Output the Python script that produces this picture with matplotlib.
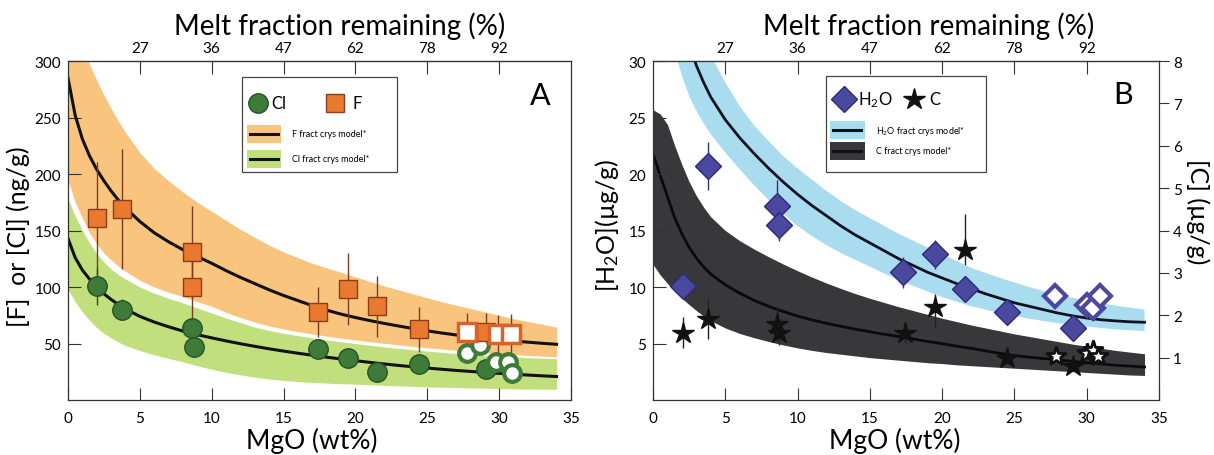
import matplotlib
matplotlib.use("Agg")
import matplotlib.pyplot as plt
from matplotlib.patches import Rectangle

plt.rcParams['font.family'] = ['Lato', 'DejaVu Sans']
plt.rcParams['mathtext.fontset'] = 'custom'
plt.rcParams['mathtext.rm'] = 'Lato'
plt.rcParams['mathtext.it'] = 'Lato:italic'

# top axis: melt fraction remaining at given MgO
melt_mgo = [5, 10, 15, 20, 25, 30]
melt_labels = ['27', '36', '47', '62', '78', '92']

# x grid used for the model curves and envelopes
grid = [0, 0.5, 1, 1.5, 2, 2.5, 3, 3.5, 4, 5, 6, 7, 8, 9, 10, 11, 12, 13, 14, 15, 16, 17,
        18, 19, 20, 21, 22, 23, 24, 25, 26, 27, 28, 29, 30, 31, 32, 33, 34]

# ---- panel A data ----
f_mgo = [2.05, 3.75, 8.6, 8.6, 17.4, 19.5, 21.5, 24.4, 29.1]
f_val = [161, 169, 131, 100, 78, 98.5, 83, 62.5, 60]
f_err = [50, 53, 41, 31, 22, 32, 27, 20, 17]
f_open_mgo = [27.8, 29.9, 30.8]
f_open_val = [60, 58, 58]
f_open_err = [17, 17, 18]

cl_mgo = [2.05, 3.75, 8.6, 8.75, 17.4, 19.5, 21.5, 24.4, 29.1]
cl_val = [100.5, 80, 64, 47, 45.5, 37.5, 25, 31.5, 27]
cl_err = [16, 9, 8, 0, 6, 4, 0, 0, 0]
cl_open_mgo = [27.8, 28.7, 29.8, 30.6, 30.9]
cl_open_val = [42, 48.5, 34, 34, 24]

f_model = [285, 252, 231, 216, 204, 194, 185, 177, 170, 158, 148, 140, 133, 127, 121, 114.5,
           108.5, 103, 97.5, 92.5, 88, 83.5, 79.5, 76, 73, 70.3, 67.8, 65.5, 63.3, 61.2, 59.3,
           57.6, 56, 54.6, 53.3, 52.2, 51.2, 50.2, 49.3]
cl_model = [143, 126, 115, 107, 100, 94, 89, 84.5, 80.5, 74, 69, 64.8, 61, 57.8, 55, 52.3, 49.8,
            47.5, 45.3, 43.3, 41.4, 39.6, 37.9, 36.3, 34.8, 33.3, 31.9, 30.6, 29.4, 28.3, 27.2,
            26.2, 25.3, 24.4, 23.6, 22.8, 22.1, 21.4, 20.8]
f_hi = [345, 328, 312, 297, 283, 270, 258, 247, 237, 219, 205, 194, 184, 175, 167, 159, 151,
        144, 137, 131, 126, 121, 117, 113, 109, 105, 101, 97.5, 94, 90.5, 87, 84, 81, 78, 75,
        72, 69.5, 67, 64.5]
f_lo = [195, 175, 161, 148, 138, 130, 124, 118.5, 114, 106, 100, 95.5, 91.5, 87, 83, 77.5, 73,
        69, 65.5, 63, 60.5, 58.5, 56.5, 54.8, 53.2, 51.6, 50.2, 48.8, 47.5, 46.3, 45.1, 44, 43,
        42, 41.1, 40.3, 39.5, 38.8, 38.2]
cl_hi = [178, 163, 150, 139, 129.5, 122, 116, 111, 107, 100, 94.5, 90, 86, 81.5, 77, 72.5,
         68.5, 64.5, 61.5, 59, 57, 55, 53.2, 51.5, 50, 48.5, 47, 45.7, 44.5, 43.3, 42.2, 41.1,
         40.2, 39.4, 38.6, 38, 37.5, 37, 36.6]
cl_lo = [98, 87, 78, 70.5, 64, 59, 55, 51.3, 48.2, 43.8, 40, 36.8, 33.8, 30.3, 27.2, 24.5, 22.2,
         20.2, 18.6, 17.3, 16.3, 15.5, 14.9, 14.4, 14, 13.5, 13, 12.5, 12.1, 11.7, 11.3, 11,
         10.7, 10.4, 10.1, 9.9, 9.7, 9.6, 9.5]

# ---- panel B data ----
h2o_mgo = [2.05, 3.77, 8.56, 8.7, 17.3, 19.5, 21.6, 24.5, 29.05]
h2o_val = [10.1, 20.7, 17.2, 15.5, 11.3, 12.9, 9.8, 7.75, 6.4]
h2o_err = [0, 2.1, 2.3, 1.4, 1.4, 1.3, 0, 0, 0]
h2o_open_mgo = [27.8, 30.0, 30.4, 30.9]
h2o_open_val = [9.2, 8.4, 8.1, 9.2]

c_mgo = [2.05, 3.77, 8.56, 8.7, 17.4, 19.5, 21.6, 24.5, 29.05]
c_val = [1.59, 1.91, 1.79, 1.59, 1.59, 2.2, 3.55, 0.98, 0.81]
c_err = [0.37, 0.47, 0.38, 0.3, 0.25, 0.5, 0.85, 0, 0]
c_open_mgo = [27.9, 30.0, 30.4, 30.8]
c_open_val = [1.04, 1.12, 1.18, 1.03]

h2o_model_mgo = [2.5, 3, 3.5, 4, 5, 6, 7, 8, 9, 10, 11, 12, 13, 14, 15, 16, 17, 18, 19, 20,
                 21, 22, 23, 24, 25, 26, 27, 28, 29, 30, 31, 32, 33, 34]
h2o_model = [31.5, 29.6, 28.1, 26.8, 24.8, 23.2, 21.8, 20.5, 19.3, 18.2, 17.2, 16.3, 15.4, 14.6,
             13.9, 13.2, 12.5, 11.9, 11.3, 10.8, 10.3, 9.85, 9.4, 9.0, 8.6, 8.3, 8.0, 7.7, 7.45,
             7.25, 7.1, 7.0, 6.92, 6.88]
h2o_hi_mgo = [4.2, 5, 6, 7, 8, 9, 10, 11, 12, 13, 14, 15, 16, 17, 18, 19, 20, 22, 24, 26, 28,
              30, 32, 34]
h2o_hi = [30, 28.1, 26, 24.3, 22.9, 21.6, 20.5, 19.5, 18.5, 17.6, 16.8, 16.1, 15.4, 14.7, 14.1,
          13.5, 12.9, 11.7, 10.8, 10.0, 9.3, 8.8, 8.35, 8.0]
h2o_lo_mgo = [1.7, 2, 2.5, 3, 3.5, 4, 5, 6, 7, 8, 9, 10, 11, 12, 13, 14, 15, 16, 17, 18, 20,
              22, 24, 26, 28, 30, 32, 34]
h2o_lo = [30, 28.7, 26.9, 25.6, 24.5, 23.5, 21.9, 20.4, 19.0, 17.7, 16.5, 15.4, 14.5, 13.7, 13.0,
          12.4, 11.8, 11.2, 10.6, 10.1, 9.1, 8.3, 7.7, 7.2, 6.8, 6.5, 6.25, 6.1]

c_model = [5.8, 5.3, 4.8, 4.3, 3.92, 3.6, 3.35, 3.14, 2.97, 2.72, 2.52, 2.35, 2.21, 2.09, 1.98,
           1.89, 1.81, 1.74, 1.67, 1.61, 1.55, 1.5, 1.44, 1.38, 1.33, 1.27, 1.22, 1.16, 1.1,
           1.05, 1.01, 0.98, 0.95, 0.91, 0.88, 0.85, 0.82, 0.8, 0.78]
c_hi = [6.85, 6.75, 6.5, 6.0, 5.55, 5.15, 4.82, 4.55, 4.32, 4.0, 3.76, 3.56, 3.38, 3.21, 3.05,
        2.9, 2.76, 2.63, 2.51, 2.4, 2.3, 2.2, 2.11, 2.02, 1.93, 1.85, 1.77, 1.7, 1.63, 1.56, 1.5,
        1.44, 1.38, 1.32, 1.27, 1.22, 1.17, 1.13, 1.09]
c_lo = [3.2, 2.95, 2.75, 2.56, 2.4, 2.25, 2.11, 1.98, 1.87, 1.7, 1.57, 1.47, 1.38, 1.3, 1.23,
        1.17, 1.12, 1.08, 1.04, 1.0, 0.97, 0.94, 0.91, 0.88, 0.86, 0.83, 0.81, 0.79, 0.77, 0.75,
        0.73, 0.71, 0.69, 0.67, 0.65, 0.63, 0.61, 0.59, 0.58]

# colours
ORANGE_BAND = '#f8c47e'
GREEN_BAND = '#c2df7e'
BLUE_BAND = '#aadcf0'
DARK_BAND = '#38383a'
F_FILL, F_EDGE = '#e8792f', '#8a3c1c'
CL_FILL, CL_EDGE = '#3e7b39', '#27522a'
H_FILL, H_EDGE = '#4b48a0', '#2d2a78'
SPINE = '#333333'

fig = plt.figure(figsize=(12.14, 4.56), dpi=100)
ax_a = fig.add_axes([0.056, 0.1206, 0.4143, 0.7434])
ax_b = fig.add_axes([0.5379, 0.1206, 0.4168, 0.7434])
ax_c = ax_b.twinx()


def style_axes(ax, ylim, yticks, title_x, label_x):
    ax.set_xlim(0, 35)
    ax.set_ylim(*ylim)
    ax.set_xticks([0, 5, 10, 15, 20, 25, 30, 35])
    ax.set_yticks(yticks)
    ax.tick_params(direction='in', length=9, width=0.8, color=SPINE, labelsize=11, pad=5)
    ax.tick_params(axis='x', pad=8)
    for s in ax.spines.values():
        s.set_color(SPINE)
        s.set_linewidth(0.9)
    ax.text(label_x, -0.118, 'MgO (wt%)', transform=ax.transAxes, fontsize=19,
            ha='center', va='center')
    top = ax.secondary_xaxis('top')
    top.set_xticks(melt_mgo, labels=melt_labels)
    top.tick_params(direction='in', length=9, width=0.8, color=SPINE, labelsize=11, pad=4)
    ax.text(title_x, 1.106, 'Melt fraction remaining (%)', transform=ax.transAxes,
            fontsize=20, ha='center', va='center')


def legend_band(ax, x0, y, color, label):
    ax.add_patch(Rectangle((x0, y - 0.026), 0.068, 0.052, transform=ax.transAxes,
                           facecolor=color, edgecolor='none', zorder=11))
    ax.plot([x0 + 0.006, x0 + 0.062], [y, y], transform=ax.transAxes, color='#111111',
            lw=2.2, zorder=12, clip_on=False)
    ax.text(x0 + 0.09, y, label, transform=ax.transAxes, fontsize=6.5, va='center', zorder=12)


def legend_box(ax, x0, x1, y0, y1):
    ax.add_patch(Rectangle((x0, y0), x1 - x0, y1 - y0, transform=ax.transAxes,
                           facecolor='white', edgecolor='#444444', lw=0.9, zorder=10))


# ---------------- panel A ----------------
ax = ax_a
style_axes(ax, (0, 300), [50, 100, 150, 200, 250, 300], 0.54, 0.484)
ax.fill_between(grid, f_lo, f_hi, color=ORANGE_BAND, lw=0, zorder=1)
ax.fill_between(grid, cl_lo, cl_hi, color=GREEN_BAND, lw=0, zorder=1)
ax.plot(grid, f_model, color='#111111', lw=2.2, zorder=2)
ax.plot(grid, cl_model, color='#111111', lw=2.2, zorder=2)

ax.errorbar(f_mgo, f_val, yerr=f_err, fmt='none', ecolor='#7a3c22', elinewidth=1, zorder=3)
ax.errorbar(f_open_mgo, f_open_val, yerr=f_open_err, fmt='none', ecolor='#7a3c22', elinewidth=1, zorder=3)
ax.errorbar(cl_mgo, cl_val, yerr=cl_err, fmt='none', ecolor='#2b4a28', elinewidth=1, zorder=3)
ax.plot(f_mgo, f_val, 's', ms=13.5, mfc=F_FILL, mec=F_EDGE, mew=1, zorder=5)
ax.plot(cl_mgo, cl_val, 'o', ms=14, mfc=CL_FILL, mec=CL_EDGE, mew=1, zorder=4)
ax.plot(f_open_mgo, f_open_val, 's', ms=13.5, mfc='white', mec='#d9622a', mew=2.5, zorder=5)
ax.plot(cl_open_mgo, cl_open_val, 'o', ms=12, mfc='white', mec=CL_FILL, mew=3, zorder=4)

ax.text(0.938, 0.9, 'A', transform=ax.transAxes, fontsize=22, ha='center', va='center')

legend_box(ax, 0.345, 0.655, 0.673, 0.953)
ax.plot([0.378], [0.876], 'o', ms=14, mfc=CL_FILL, mec=CL_EDGE, transform=ax.transAxes, zorder=12)
ax.text(0.405, 0.876, 'Cl', transform=ax.transAxes, fontsize=12, va='center', zorder=12)
ax.plot([0.53], [0.876], 's', ms=13.5, mfc=F_FILL, mec=F_EDGE, transform=ax.transAxes, zorder=12)
ax.text(0.565, 0.876, 'F', transform=ax.transAxes, fontsize=12, va='center', zorder=12)
legend_band(ax, 0.355, 0.785, ORANGE_BAND, 'F fract crys model*')
legend_band(ax, 0.355, 0.711, GREEN_BAND, 'Cl fract crys model*')

fig.text(0.015, 0.48, '[F]  or [Cl] (ng/g)', rotation=90, fontsize=18, ha='center', va='center')

# ---------------- panel B ----------------
style_axes(ax_b, (0, 30), [5, 10, 15, 20, 25, 30], 0.545, 0.478)
ax_c.set_ylim(0, 8)
ax_c.set_yticks([1, 2, 3, 4, 5, 6, 7, 8])
ax_c.tick_params(direction='out', length=7, width=0.8, color=SPINE, labelsize=11, pad=3)
for s in ax_c.spines.values():
    s.set_visible(False)
ax_b.set_zorder(ax_c.get_zorder() + 1)
ax_b.patch.set_visible(False)

# carbon (right axis)
ax_c.fill_between(grid, c_lo, c_hi, color=DARK_BAND, lw=0, zorder=1)
ax_c.plot(grid, c_model, color='#0a0a0a', lw=2, zorder=2)
ax_c.errorbar(c_mgo, c_val, yerr=c_err, fmt='none', ecolor='#222222', elinewidth=1, zorder=3)
ax_c.plot(c_mgo, c_val, '*', ms=16, mfc='#111111', mec='#111111', zorder=4)
ax_c.plot(c_open_mgo, c_open_val, '*', ms=15, mfc='white', mec='#111111', mew=2, zorder=4)

# water (left axis)
ax = ax_b
ax.fill(h2o_hi_mgo + h2o_lo_mgo[::-1], h2o_hi + h2o_lo[::-1], color=BLUE_BAND, lw=0, zorder=1)
ax.plot(h2o_model_mgo, h2o_model, color='#111122', lw=2, zorder=2)
ax.errorbar(h2o_mgo, h2o_val, yerr=h2o_err, fmt='none', ecolor='#33337a', elinewidth=1, zorder=3)
ax.plot(h2o_mgo, h2o_val, 'D', ms=13.5, mfc=H_FILL, mec=H_EDGE, mew=1, zorder=4)
ax.plot(h2o_open_mgo, h2o_open_val, 'D', ms=11.5, mfc='white', mec=H_FILL, mew=3, zorder=4)

ax.text(0.929, 0.903, 'B', transform=ax.transAxes, fontsize=22, ha='center', va='center')

legend_box(ax, 0.3425, 0.6575, 0.673, 0.956)
ax.plot([0.378], [0.888], 'D', ms=13.5, mfc=H_FILL, mec=H_EDGE, transform=ax.transAxes, zorder=12)
ax.text(0.405, 0.888, 'H$_2$O', transform=ax.transAxes, fontsize=12, va='center', zorder=12)
ax.plot([0.516], [0.888], '*', ms=16, mfc='#111111', mec='#111111', transform=ax.transAxes, zorder=12)
ax.text(0.545, 0.888, 'C', transform=ax.transAxes, fontsize=12, va='center', zorder=12)
legend_band(ax, 0.35, 0.796, BLUE_BAND, 'H$_2$O fract crys model*')
legend_band(ax, 0.35, 0.735, DARK_BAND, 'C fract crys model*')

fig.text(0.5, 0.505, '[H$_2$O](µg/g)', rotation=90, fontsize=18, ha='center', va='center')
fig.text(0.987, 0.535, '[C] (µg/g)', rotation=270, fontsize=18, ha='center', va='center')

fig.savefig('out.png', dpi=100)
